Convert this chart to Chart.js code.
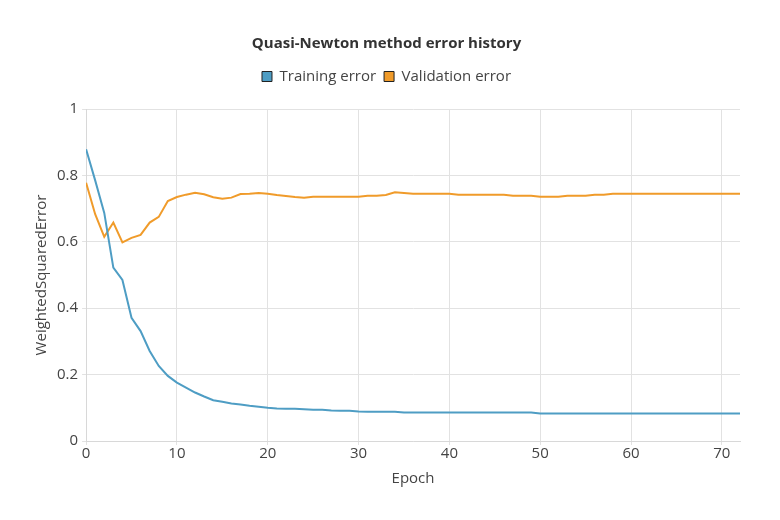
<!DOCTYPE html>
<html>
<head>
<meta charset="utf-8">
<script src="https://cdn.jsdelivr.net/npm/chart.js@4.4.1/dist/chart.umd.min.js"></script>
<style>
html,body{margin:0;padding:0;background:#fff;}
#wrap{width:780px;height:520px;}
</style>
</head>
<body>
<div id="wrap"><canvas id="c" width="780" height="520"></canvas></div>
<script>
const epochs = Array.from({length: 73}, (_, i) => i);
const trainingError = [
  0.879, 0.785, 0.687, 0.522, 0.485, 0.371, 0.331, 0.271, 0.226, 0.196,
  0.176, 0.161, 0.146, 0.134, 0.123, 0.118, 0.113, 0.110, 0.106, 0.103,
  0.100, 0.098, 0.097, 0.097, 0.096, 0.094, 0.094, 0.092, 0.091, 0.091,
  0.089, 0.088, 0.088, 0.088, 0.088,
  0.086, 0.086, 0.086, 0.086, 0.086, 0.086, 0.086, 0.086, 0.086, 0.086,
  0.086, 0.086, 0.086, 0.086, 0.086,
  0.083, 0.083, 0.083, 0.083, 0.083, 0.083, 0.083, 0.083, 0.083, 0.083,
  0.083, 0.083, 0.083, 0.083, 0.083, 0.083, 0.083, 0.083, 0.083, 0.083,
  0.083, 0.083, 0.083
];
const validationError = [
  0.778, 0.683, 0.615, 0.658, 0.598, 0.612, 0.621, 0.658, 0.675, 0.723,
  0.735, 0.742, 0.748, 0.743, 0.734, 0.730, 0.733, 0.744, 0.745, 0.747,
  0.745, 0.741, 0.738, 0.735, 0.733, 0.736, 0.736, 0.736, 0.736, 0.736,
  0.736, 0.739, 0.739, 0.741, 0.749, 0.747,
  0.745, 0.745, 0.745, 0.745, 0.745,
  0.742, 0.742, 0.742, 0.742, 0.742, 0.742,
  0.739, 0.739, 0.739,
  0.736, 0.736, 0.736,
  0.739, 0.739, 0.739,
  0.742, 0.742,
  0.745, 0.745, 0.745, 0.745, 0.745, 0.745, 0.745, 0.745, 0.745, 0.745,
  0.745, 0.745, 0.745, 0.745, 0.745
];
const xTicks = [0, 10, 20, 30, 40, 50, 60, 70];
const yTicks = [0, 0.2, 0.4, 0.6, 0.8, 1];

const FONT = "'Open Sans', 'Noto Sans', sans-serif";
const BLUE = '#4e9dc4';
const ORANGE = '#f09b2a';

const legendSpacing = {
  id: 'legendSpacing',
  beforeInit(chart) {
    const origFit = chart.legend.fit;
    chart.legend.fit = function() {
      origFit.call(this);
      this.height += 15;
    };
  }
};

const ctx = document.getElementById('c').getContext('2d');
new Chart(ctx, {
  type: 'line',
  data: {
    datasets: [
      {
        label: 'Training error',
        data: epochs.map((e, i) => ({x: e, y: trainingError[i]})),
        borderColor: BLUE,
        backgroundColor: BLUE,
        borderWidth: 2,
        pointRadius: 0,
        tension: 0,
        fill: false
      },
      {
        label: 'Validation error',
        data: epochs.map((e, i) => ({x: e, y: validationError[i]})),
        borderColor: ORANGE,
        backgroundColor: ORANGE,
        borderWidth: 2,
        pointRadius: 0,
        tension: 0,
        fill: false
      }
    ]
  },
  plugins: [legendSpacing],
  options: {
    responsive: false,
    animation: false,
    devicePixelRatio: 1,
    layout: {padding: {left: 33, right: 40, top: 35, bottom: 32}},
    plugins: {
      title: {
        display: true,
        text: 'Quasi-Newton method error history',
        color: '#333',
        font: {family: FONT, size: 15, weight: 'bold'},
        padding: {top: 0, bottom: 8}
      },
      legend: {
        display: true,
        labels: {
          color: '#444',
          font: {family: FONT, size: 15},
          boxWidth: 10,
          boxHeight: 10,
          padding: 8,
          generateLabels: function(chart) {
            const items = Chart.defaults.plugins.legend.labels.generateLabels(chart);
            items.forEach(it => { it.strokeStyle = '#222'; it.lineWidth = 1; });
            return items;
          }
        }
      },
      tooltip: {enabled: false}
    },
    scales: {
      x: {
        type: 'linear',
        min: 0,
        max: 72,
        afterBuildTicks: function(axis) {
          axis.ticks = xTicks.map(v => ({value: v}));
        },
        ticks: {
          color: '#444',
          font: {family: FONT, size: 15},
          padding: 0,
          maxRotation: 0
        },
        grid: {color: '#e2e2e2', tickLength: 4, drawTicks: true},
        border: {color: '#d8d8d8'},
        title: {
          display: true,
          text: 'Epoch',
          color: '#444',
          font: {family: FONT, size: 15},
          padding: {top: 7, bottom: 0}
        }
      },
      y: {
        type: 'linear',
        min: 0,
        max: 1,
        afterBuildTicks: function(axis) {
          axis.ticks = yTicks.map(v => ({value: v}));
        },
        ticks: {
          color: '#444',
          font: {family: FONT, size: 15},
          padding: 4,
          callback: v => String(Math.round(v * 10) / 10)
        },
        grid: {color: '#e2e2e2', tickLength: 4, drawTicks: true},
        border: {color: '#d8d8d8'},
        title: {
          display: true,
          text: 'WeightedSquaredError',
          color: '#444',
          font: {family: FONT, size: 15},
          padding: {top: 0, bottom: 2}
        }
      }
    }
  }
});
</script>
</body>
</html>
